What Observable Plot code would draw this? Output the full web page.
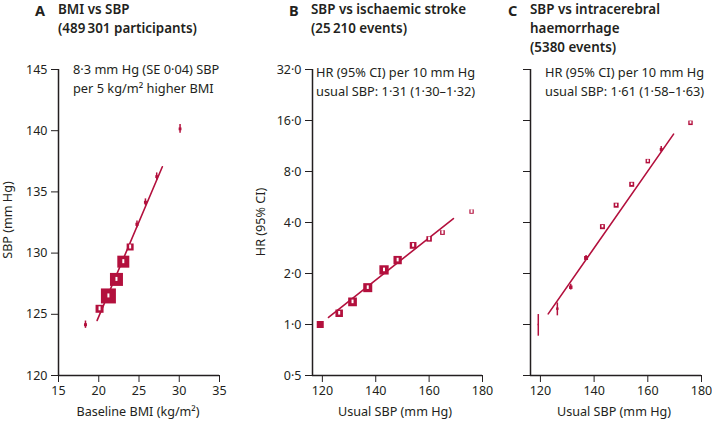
<!DOCTYPE html>
<html><head><meta charset="utf-8">
<script src="https://cdn.jsdelivr.net/npm/d3@7"></script>
<script src="https://cdn.jsdelivr.net/npm/@observablehq/plot@0.6"></script>
<style>
body{margin:0;background:#fff;}
#chart{position:relative;width:712px;height:425px;font-family:"Noto Sans",sans-serif;color:#231f20;overflow:hidden;background:#fff;}
.t{position:absolute;white-space:nowrap;font-size:12.8px;line-height:19px;}
.title{font-weight:600;font-size:13.4px;}
.letter{position:absolute;font-weight:700;font-size:14.5px;line-height:20px;}
.vlab{position:absolute;white-space:nowrap;font-size:12.6px;line-height:1;transform:translate(-50%,-50%) rotate(-90deg);}
.hlab{position:absolute;white-space:nowrap;font-size:12.6px;line-height:1;transform:translateX(-50%);}
.pw{position:absolute;top:0;}
</style></head><body><div id="chart"></div>
<script>
const crimson = "#b3103d";
const ink = "#231f20";

// ---- Panel A: BMI vs SBP ----
const bmi     = [18.35, 20.1, 21.2, 22.2, 23.05, 23.9, 24.75, 25.8, 27.2, 30.1];
const sbpA    = [124.15, 125.45, 126.5, 127.85, 129.3, 130.5, 132.35, 134.15, 136.25, 140.15];
const sbpALo  = [123.85, 125.35, 126.42, 127.77, 129.2, 130.38, 132.07, 133.87, 135.95, 139.8];
const sbpAHi  = [124.45, 125.55, 126.58, 127.93, 129.4, 130.62, 132.63, 134.43, 136.55, 140.5];
const weightA = [9, 64, 225, 169, 144, 49, 10, 9, 8, 8];
const fitBmi  = [19.8, 27.9];
const fitSbpA = [124.5, 137.05];
const bmiTicks = [15, 20, 25, 30, 35];
const sbpTicks = [120, 125, 130, 135, 140, 145];

// ---- Panels B and C: usual SBP groups ----
const usualSbp = [119.2, 126.3, 131.3, 137.0, 143.1, 148.2, 154.0, 160.0, 165.0, 175.9];
// B: ischaemic stroke
const hrIsch   = [1.0, 1.165, 1.36, 1.65, 2.10, 2.40, 2.93, 3.20, 3.49, 4.64];
const hrIschLo = [1.0, 1.14, 1.34, 1.63, 2.07, 2.37, 2.88, 3.15, 3.43, 4.56];
const hrIschHi = [1.0, 1.19, 1.38, 1.67, 2.13, 2.43, 2.98, 3.25, 3.55, 4.72];
const weightB  = [49, 56, 76, 81, 86, 69, 45, 30, 22, 19];
const fitSbpB  = [122.3, 169.1];
const fitHrB   = [1.1, 4.22];
// C: intracerebral haemorrhage
const hrIch    = [1.0, 1.24, 1.66, 2.47, 3.78, 5.06, 6.72, 9.21, 10.8, 15.5];
const hrIchLo  = [0.853, 1.125, 1.60, 2.40, 3.74, 5.01, 6.66, 9.12, 10.35, 15.35];
const hrIchHi  = [1.145, 1.34, 1.73, 2.55, 3.82, 5.11, 6.78, 9.30, 11.25, 15.65];
const weightC  = [2, 6, 12, 16, 25, 25, 25, 20, 9, 20];
const fitSbpC  = [122.9, 169.6];
const fitHrC   = [1.156, 13.3];
const hrTicks  = [0.5, 1, 2, 4, 8, 16, 32];
const usualTicks = [120, 140, 160, 180];

const dotFmt = d => d.toFixed(1).replace(".", "\u00b7");

function rows(xs, ys, los, his, ws) {
  return xs.map((x, i) => ({x, y: ys[i], lo: los[i], hi: his[i], w: ws[i]}));
}
function fitRows(xs, ys) { return xs.map((x, i) => ({x, y: ys[i]})); }

function panel(o) {
  const pts = o.points;
  return Plot.plot({
    width: o.width, height: 425,
    marginTop: 69, marginBottom: 50, marginLeft: o.marginLeft, marginRight: o.marginRight,
    style: {fontFamily: "Noto Sans", fontSize: "12.5px", color: ink, background: "transparent", overflow: "visible"},
    x: {domain: o.xDomain, ticks: o.xTicks, tickSize: 7, tickPadding: 4, label: null},
    y: Object.assign({domain: o.yDomain, ticks: o.yTicks, tickSize: 7, tickPadding: 4, label: null}, o.yExtra || {}),
    r: {type: "sqrt", domain: [0, o.maxW], range: [0, o.maxSide / Math.sqrt(Math.PI)]},
    marks: [
      Plot.ruleX([o.xDomain[0]], {stroke: ink, strokeWidth: 1.5}),
      Plot.ruleY([o.yDomain[0]], {stroke: ink, strokeWidth: 1.5}),
      Plot.line(o.fit, {x: "x", y: "y", stroke: crimson, strokeWidth: 1.6}),
      Plot.ruleX(pts, {x: "x", y1: "lo", y2: "hi", stroke: crimson, strokeWidth: 1.5}),
      Plot.dot(pts, {x: "x", y: "y", r: "w", symbol: "square", fill: crimson, stroke: "none"}),
      Plot.ruleX(pts.filter(o.white), {x: "x", y1: "y", y2: "y", insetTop: -o.wh, insetBottom: -o.wh, stroke: "white", strokeWidth: o.ww})
    ]
  });
}

const chart = document.getElementById("chart");
function place(svg, left) {
  const d = document.createElement("div");
  d.className = "pw"; d.style.left = left + "px";
  d.appendChild(svg); chart.appendChild(d);
}

const ptsA = rows(bmi, sbpA, sbpALo, sbpAHi, weightA);
place(panel({
  points: ptsA, fit: fitRows(fitBmi, fitSbpA),
  width: 230, marginLeft: 58, marginRight: 11,
  xDomain: [15, 35], xTicks: bmiTicks, yDomain: [120, 145], yTicks: sbpTicks,
  maxW: 225, maxSide: 15, white: p => p.w >= 40, wh: 2, ww: 2
}), 0);

const ptsB = rows(usualSbp, hrIsch, hrIschLo, hrIschHi, weightB);
place(panel({
  points: ptsB, fit: fitRows(fitSbpB, fitHrB),
  width: 250, marginLeft: 72, marginRight: 8,
  xDomain: [116.3, 180], xTicks: usualTicks, yDomain: [0.5, 32], yTicks: hrTicks,
  yExtra: {type: "log", base: 2, tickFormat: dotFmt},
  maxW: 86, maxSide: 9.3, white: p => p.lo !== p.hi, wh: 1.8, ww: 2
}), 240);

const ptsC = rows(usualSbp, hrIch, hrIchLo, hrIchHi, weightC);
place(panel({
  points: ptsC, fit: fitRows(fitSbpC, fitHrC),
  width: 222, marginLeft: 40, marginRight: 11,
  xDomain: [116.3, 180], xTicks: usualTicks, yDomain: [0.5, 32], yTicks: hrTicks,
  yExtra: {type: "log", base: 2, tickFormat: () => ""},
  maxW: 25, maxSide: 5, white: p => p.w >= 18, wh: 1.2, ww: 1.8
}), 490);

function txt(cls, left, top, html) {
  const d = document.createElement("div");
  d.className = cls; d.style.left = left + "px"; d.style.top = top + "px";
  d.innerHTML = html; chart.appendChild(d);
}
// Titles
txt("letter", 35, 0, "A");
txt("t title", 58, 0, "BMI vs SBP<br>(489\u2009301 participants)");
txt("letter", 289, 0, "B");
txt("t title", 311, 0, "SBP vs ischaemic stroke<br>(25\u2009210 events)");
txt("letter", 508, 0, "C");
txt("t title", 530, 0, "SBP vs intracerebral<br>haemorrhage<br>(5380 events)");
// Annotations
txt("t", 73, 60, "8\u00b73 mm Hg (SE 0\u00b704) SBP<br>per 5 kg/m\u00b2 higher BMI");
txt("t", 316, 63, "HR (95% CI) per 10 mm Hg<br>usual SBP: 1\u00b731 (1\u00b730\u20131\u00b732)");
txt("t", 545, 63, "HR (95% CI) per 10 mm Hg<br>usual SBP: 1\u00b761 (1\u00b758\u20131\u00b763)");
// Axis labels
txt("vlab", 8, 220, "SBP (mm Hg)");
txt("vlab", 261, 222, "HR (95% CI)");
txt("hlab", 138, 406, "Baseline BMI (kg/m\u00b2)");
txt("hlab", 395, 406, "Usual SBP (mm Hg)");
txt("hlab", 614, 406, "Usual SBP (mm Hg)");
</script></body></html>
